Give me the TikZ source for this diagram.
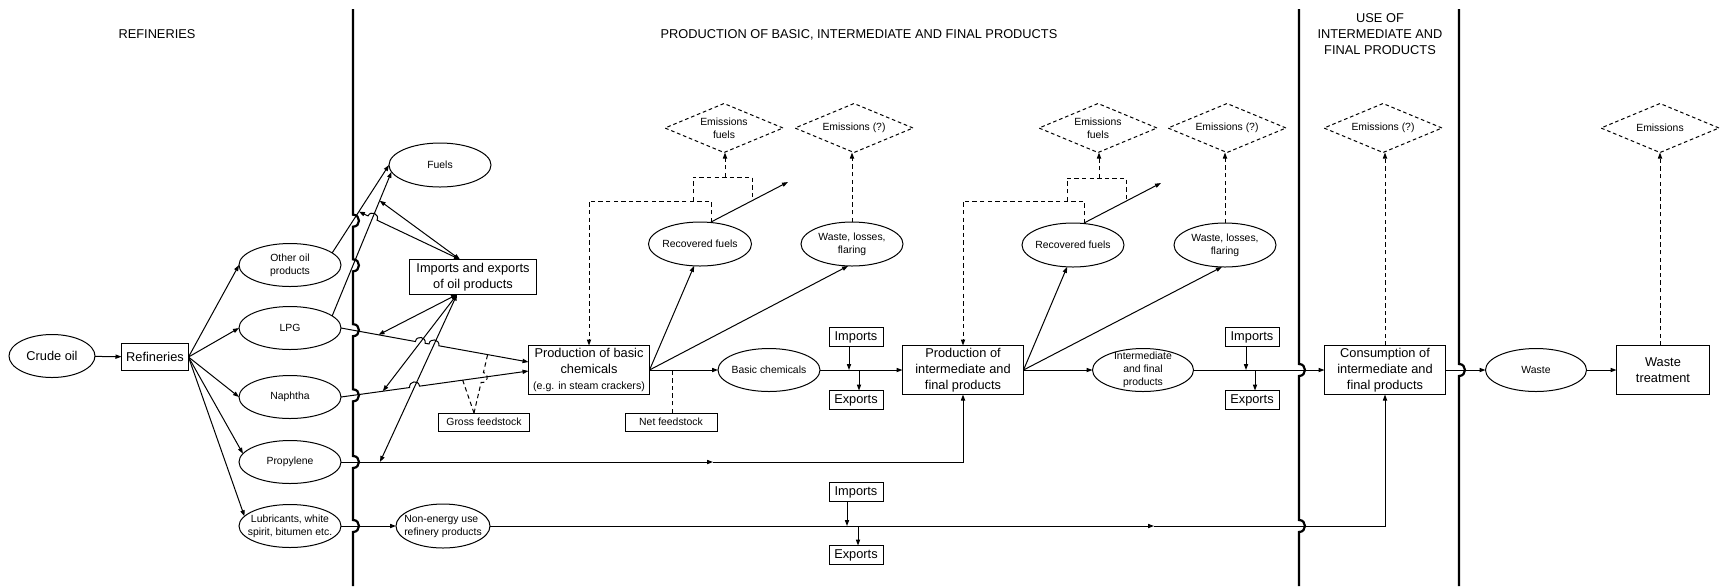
\documentclass[tikz,border=0pt]{standalone}
\usepackage{fontspec}
\setmainfont{Liberation Sans}
\usetikzlibrary{shapes.geometric,arrows.meta,calc}
\begin{document}
\begin{tikzpicture}[x=0.5pt,y=0.5pt,
 >={Triangle[length=3pt,width=2.1pt]},
 every node/.style={inner sep=0pt,outer sep=0pt},
 bt/.style={font=\fontsize{6.4}{7.9}\selectfont},
 st/.style={font=\fontsize{5.2}{6.5}\selectfont},
 ell/.style={ellipse,draw,line width=0.5pt,minimum width=51pt,minimum height=21.5pt},
 box/.style={draw,line width=0.5pt,align=center,bt},
 smallbox/.style={box,minimum width=27pt,minimum height=9.5pt},
 dia/.style={diamond,draw,line width=0.5pt,dash pattern=on 1.8pt off 1.4pt,aspect=2.4,minimum width=59pt,minimum height=24.5pt},
 con/.style={line width=0.5pt,->},
 con2/.style={line width=0.5pt,<->},
 dsh/.style={line width=0.5pt,dash pattern=on 2.2pt off 1.6pt},
 dcon/.style={dsh,->},
 vl/.style={line width=1.1pt},
 jmp/.style={bend left=90,looseness=1.7},
 jmpr/.style={bend right=90,looseness=1.7},
]
\useasboundingbox (0,0) rectangle (1720,-586);

% titles
\node[bt] (t1) at (157,-34) {REFINERIES};
\node[bt] (t2) at (859,-35) {PRODUCTION OF BASIC, INTERMEDIATE AND FINAL PRODUCTS};
\node[bt,align=center] (t3) at (1380,-34) {USE OF\\INTERMEDIATE AND\\FINAL PRODUCTS};

% nodes
\node[ell,minimum width=43pt,label={[bt]center:Crude oil}] (crude) at (52,-356) {};
\node[box,minimum width=33.5pt,minimum height=13.5pt] (ref) at (155,-357) {Refineries};
\node[ell,label={[st,align=center]center:{Other oil\\products}}] (oop) at (290,-265) {};
\node[ell,label={[st]center:LPG}] (lpg) at (290,-328) {};
\node[ell,label={[st]center:Naphtha}] (nap) at (290,-397) {};
\node[ell,label={[st]center:Propylene}] (pro) at (290,-462) {};
\node[ell,label={[st,align=center]center:{Lubricants, white\\spirit, bitumen etc.}}] (lub) at (290,-526) {};
\node[ell,minimum height=22pt,label={[st]center:Fuels}] (fuels) at (440,-165) {};
\node[box,minimum width=63.5pt,minimum height=17.5pt] (iex) at (473,-277) {Imports and exports\\of oil products};
\node[box,minimum width=60.5pt,minimum height=24.5pt] (pbc) at (589,-370) {Production of basic\\chemicals\\{\fontsize{5.3}{6.5}\selectfont(e.g. in steam crackers)}};
\node[box,st,minimum width=45.5pt,minimum height=9pt] (gross) at (484,-422) {Gross feedstock};
\node[box,st,minimum width=46pt,minimum height=9pt] (net) at (671,-422) {Net feedstock};
\node[ell,minimum width=51.5pt,minimum height=22pt,label={[st]center:Recovered fuels}] (rf1) at (700,-244) {};
\node[ell,minimum height=22pt,label={[st,align=center]center:{Waste, losses,\\flaring}}] (wl1) at (852,-244) {};
\node[dia,label={[st,align=center]center:{Emissions\\fuels}}] (ef1) at (724,-128) {};
\node[dia,label={[st]center:Emissions (?)}] (eq1) at (854,-128) {};
\node[ell,label={[st]center:Basic chemicals}] (bc) at (769,-370) {};
\node[smallbox] (imp1) at (856,-337) {Imports};
\node[smallbox] (exp1) at (856,-400) {Exports};
\node[box,minimum width=60.5pt,minimum height=24.5pt] (pif) at (963,-370) {Production of\\intermediate and\\final products};
\node[ell,minimum height=22pt,label={[st]center:Recovered fuels}] (rf2) at (1073,-245) {};
\node[ell,minimum height=22pt,label={[st,align=center]center:{Waste, losses,\\flaring}}] (wl2) at (1225,-245) {};
\node[dia,label={[st,align=center]center:{Emissions\\fuels}}] (ef2) at (1098,-128) {};
\node[dia,label={[st]center:Emissions (?)}] (eq2) at (1227,-128) {};
\node[ell,minimum width=50.5pt,label={[st,align=center]center:{Intermediate\\and final\\products}}] (ifp) at (1143,-370) {};
\node[smallbox] (imp2) at (1252,-337) {Imports};
\node[smallbox] (exp2) at (1252,-400) {Exports};
\node[box,minimum width=60.5pt,minimum height=24.5pt] (con) at (1385,-370) {Consumption of\\intermediate and\\final products};
\node[dia,label={[st]center:Emissions (?)}] (eq3) at (1383,-128) {};
\node[ell,minimum width=50.5pt,label={[st]center:Waste}] (waste) at (1536,-370) {};
\node[box,minimum width=46.5pt,minimum height=24.5pt] (wt) at (1663,-370) {Waste\\treatment};
\node[dia,label={[st]center:Emissions}] (em4) at (1660,-128) {};
\node[ell,minimum width=47pt,minimum height=22pt,label={[st,align=left]center:{Non-energy use\\refinery products}}] (ne) at (443,-526) {};
\node[smallbox] (imp3) at (856,-492) {Imports};
\node[smallbox] (exp3) at (856,-555) {Exports};

% refinery outputs
\draw[con] (crude) -- (ref);
\draw[con] (ref.east) -- (oop.west);
\draw[con] (ref.east) -- (lpg.west);
\draw[con] (ref.east) -- (nap.west);
\draw[con] (ref.east) -- (pro.170);
\draw[con] (ref.east) -- (lub.168);

% key coordinates
\coordinate (oopS) at (oop.16);
\coordinate (fuW) at (fuels.west);
\coordinate (lpgS) at (lpg.16);
\coordinate (fuS) at (fuels.188);
\coordinate (iexT) at ($(iex.north)+(-13,0)$);
\coordinate (iexB) at ($(iex.south)+(-16,0)$);
\coordinate (pO) at ($(oopS)!0.47!(fuW)$);
\coordinate (pF) at ($(lpgS)!0.8!(fuS)$);
\coordinate (lpgE) at (lpg.east);
\coordinate (pbcL) at ($(pbc.west)+(0,8)$);
\coordinate (napE) at (nap.east);
\coordinate (pbcN) at ($(pbc.west)+(0,-1)$);
\coordinate (proE) at (pro.east);
\coordinate (lubE) at (lub.east);
\coordinate (neW) at (ne.west);
\coordinate (pL) at ($(lpgE)!0.2!(pbcL)$);
\coordinate (pN) at ($(napE)!0.223!(pbcN)$);
\coordinate (pP) at (380,-462);
\coordinate (pm) at (713,-462);
\coordinate (nm) at (1154,-526);

% fuels
\draw[con] (oopS) -- (fuW);
\draw[con] (lpgS) -- (fuS);
\draw[con2] (iexT) -- (pF);
\coordinate (X4) at (intersection of iexT--pO and lpgS--fuS);
\draw[con2] (iexT) -- ($(X4)!2.5pt!(iexT)$) to[jmpr] ($(X4)!2.5pt!(pO)$) -- (pO);

% imports/exports to feedstock lines
\draw[con2] (iexB) -- (pL);
\draw[con2] (iexB) -- (pN);
\draw[con2] (iexB) -- (pP);
\coordinate (X1) at (intersection of lpgE--pbcL and iexB--pN);
\coordinate (X2) at (intersection of lpgE--pbcL and iexB--pP);
\coordinate (X3) at (intersection of napE--pbcN and iexB--pP);
\draw[con] (lpgE) -- ($(X1)!2.5pt!(lpgE)$) to[jmp] ($(X1)!2.5pt!(pbcL)$) -- ($(X2)!2.5pt!(lpgE)$) to[jmp] ($(X2)!2.5pt!(pbcL)$) -- (pbcL);
\draw[con] (napE) -- ($(X3)!2.5pt!(napE)$) to[jmp] ($(X3)!2.5pt!(pbcN)$) -- (pbcN);

% gross feedstock
\coordinate (gT) at ($(gross.north)+(-10,0)$);
\coordinate (gN) at ($(napE)!0.649!(pbcN)$);
\coordinate (gL) at ($(lpgE)!0.782!(pbcL)$);
\draw[dsh] (gT) -- (gN);
\coordinate (X5) at (intersection of gT--gL and napE--pbcN);
\draw[dsh] (gT) -- ($(X5)!2.5pt!(gT)$) to[jmpr] ($(X5)!2.5pt!(gL)$) -- (gL);

% net feedstock
\coordinate (nT) at ($(net.north)+(1,0)$);
\draw[dsh] (nT) -- (nT |- pbc.east);

% propylene and lubricants
\draw[con] (proE) -- (pm);
\draw[con] (pm) -| (pif.south);
\draw[con] (lubE) -- (neW);
\draw[con] (ne.east) -- (nm);
\draw[con] (nm) -| (con.south);
\coordinate (i3t) at ($(imp3.south)+(-9,0)$);
\coordinate (i3b) at (i3t |- nm);
\draw[con] (i3t) -- (i3b);
\coordinate (e3t) at ($(exp3.north)+(2,0)$);
\coordinate (e3b) at (e3t |- nm);
\draw[con] (e3b) -- (e3t);

% basic chemicals stage
\draw[con] (pbc.east) -- (rf1.255);
\draw[con] (pbc.east) -- (wl1.260);
\draw[con] (pbc.east) -- (bc.west);
\draw[con] (bc.east) -- (pif.west);
\coordinate (i1t) at ($(imp1.south)+(-7,0)$);
\coordinate (i1b) at (i1t |- bc.east);
\draw[con] (i1t) -- (i1b);
\coordinate (e1t) at ($(exp1.north)+(3,0)$);
\coordinate (e1b) at (e1t |- bc.east);
\draw[con] (e1b) -- (e1t);
\coordinate (r1t) at ($(rf1.north)+(11,0)$);
\coordinate (r1e) at (788,-182);
\draw[con] (r1t) -- (r1e);
\draw[dcon] (r1t) -- ++(0,21) -| (pbc.north);
\draw[dsh] (693,-201) -- (693,-177) -- (752,-177) -- (752,-201);
\coordinate (f1) at (725,-177);
\draw[dcon] (f1) -- (f1 |- ef1.south);
\draw[dcon] (wl1.north) -- (wl1.north |- eq1.south);

% intermediate stage
\draw[con] (pif.east) -- (rf2.255);
\draw[con] (pif.east) -- (wl2.262);
\draw[con] (pif.east) -- (ifp.west);
\draw[con] (ifp.east) -- (con.west);
\coordinate (i2t) at ($(imp2.south)+(-6,0)$);
\coordinate (i2b) at (i2t |- ifp.east);
\draw[con] (i2t) -- (i2b);
\coordinate (e2t) at ($(exp2.north)+(3,0)$);
\coordinate (e2b) at (e2t |- ifp.east);
\draw[con] (e2b) -- (e2t);
\coordinate (r2t) at ($(rf2.north)+(11,0)$);
\coordinate (r2e) at (1161,-183);
\draw[con] (r2t) -- (r2e);
\draw[dcon] (r2t) -- ++(0,22) -| (pif.north);
\draw[dsh] (1067,-201) -- (1067,-178) -- (1126,-178) -- (1126,-201);
\coordinate (f2) at (1099,-178);
\draw[dcon] (f2) -- (f2 |- ef2.south);
\draw[dcon] (wl2.north) -- (wl2.north |- eq2.south);

% use and waste
\draw[dcon] (con.north) -- (con.north |- eq3.south);
\draw[con] (con.east) -- (waste.west);
\draw[con] (waste.east) -- (wt.west);
\coordinate (wtT) at (wt.north -| em4.south);
\draw[dcon] (wtT) -- (em4.south);

% vertical separators with jumps
\coordinate (vt1) at (353,-9);
\coordinate (vb1) at (353,-586);
\coordinate (V1) at (intersection of vt1--vb1 and oopS--fuW);
\coordinate (V2) at (intersection of vt1--vb1 and lpgS--fuS);
\coordinate (V3) at (intersection of vt1--vb1 and lpgE--pbcL);
\coordinate (V4) at (intersection of vt1--vb1 and napE--pbcN);
\coordinate (V5) at (vt1 |- proE);
\coordinate (V6) at (vt1 |- lubE);
\draw[vl] (vt1) -- ($(V1)+(0,6)$) to[jmp] ($(V1)+(0,-6)$)
  -- ($(V2)+(0,6)$) to[jmp] ($(V2)+(0,-6)$)
  -- ($(V3)+(0,6)$) to[jmp] ($(V3)+(0,-6)$)
  -- ($(V4)+(0,6)$) to[jmp] ($(V4)+(0,-6)$)
  -- ($(V5)+(0,6)$) to[jmp] ($(V5)+(0,-6)$)
  -- ($(V6)+(0,6)$) to[jmp] ($(V6)+(0,-6)$) -- (vb1);
\coordinate (vt2) at (1299,-9);
\coordinate (vb2) at (1299,-586);
\coordinate (V7) at (vt2 |- ifp.east);
\coordinate (V8) at (vt2 |- nm);
\draw[vl] (vt2) -- ($(V7)+(0,6)$) to[jmp] ($(V7)+(0,-6)$)
  -- ($(V8)+(0,6)$) to[jmp] ($(V8)+(0,-6)$) -- (vb2);
\coordinate (vt3) at (1459,-9);
\coordinate (vb3) at (1459,-586);
\coordinate (V9) at (vt3 |- con.east);
\draw[vl] (vt3) -- ($(V9)+(0,6)$) to[jmp] ($(V9)+(0,-6)$) -- (vb3);
\end{tikzpicture}
\end{document}
